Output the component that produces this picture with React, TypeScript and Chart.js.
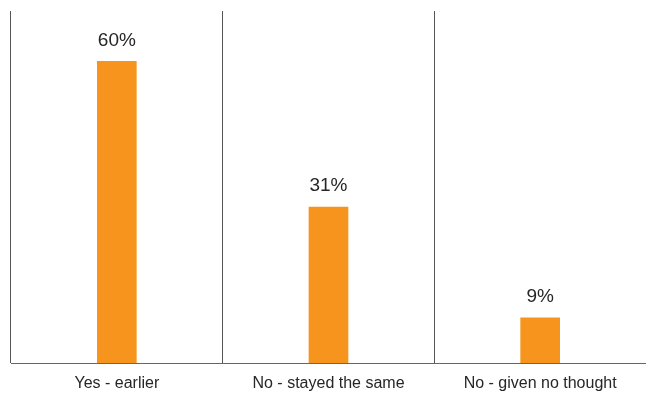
import React, { useEffect, useRef } from "react";
import { Chart, registerables } from "chart.js";

Chart.register(...registerables);

const categories = ["Yes - earlier", "No - stayed the same", "No - given no thought"];
const values = [60, 31, 9];
const valueLabels = ["60%", "31%", "9%"];

const FONT = "'Liberation Sans', Arial, Helvetica, sans-serif";

const valueLabelPlugin = {
  id: "valueLabels",
  afterDatasetsDraw(chart: any) {
    const ctx = chart.ctx;
    const meta = chart.getDatasetMeta(0);
    ctx.save();
    ctx.font = `19px ${FONT}`;
    ctx.fillStyle = "#262626";
    ctx.textAlign = "center";
    ctx.textBaseline = "middle";
    meta.data.forEach((bar: any, i: number) => {
      ctx.fillText(valueLabels[i], bar.x, bar.y - 21);
    });
    ctx.restore();
  },
};

export default function App() {
  const ref = useRef<HTMLCanvasElement>(null);
  useEffect(() => {
    if (!ref.current) return;
    const chart = new Chart(ref.current, {
      type: "bar",
      data: {
        labels: categories,
        datasets: [
          {
            data: values,
            backgroundColor: "#F7941D",
            borderWidth: 0,
            barThickness: 39,
          },
        ],
      },
      options: {
        animation: false,
        responsive: false,
        maintainAspectRatio: false,
        layout: { padding: { top: 11, left: 11, right: 0, bottom: 0 } },
        plugins: { legend: { display: false }, tooltip: { enabled: false } },
        scales: {
          x: {
            offset: true,
            afterFit: (scale: any) => {
              scale.height = 33;
            },
            grid: {
              offset: true,
              drawTicks: false,
              color: (c: any) => (c.type === "tick" ? "#555555" : "rgba(0,0,0,0)"),
              lineWidth: 1,
            },
            border: { display: true, color: "#666666", width: 1 },
            ticks: {
              color: "#262626",
              font: { family: FONT, size: 16 },
              padding: 11,
              maxRotation: 0,
            },
          },
          y: {
            display: false,
            min: 0,
            max: 70,
          },
        },
      },
      plugins: [valueLabelPlugin],
    });
    return () => chart.destroy();
  }, []);
  return (
    <div style={{ position: "absolute", left: 0, top: 0, width: 646, height: 396, background: "#fff" }}>
      <canvas ref={ref} width={646} height={396} style={{ width: 646, height: 396 }} />
    </div>
  );
}
